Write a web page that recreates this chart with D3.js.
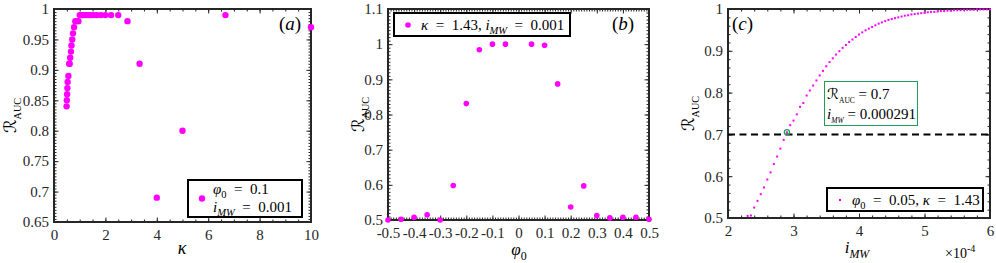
<!DOCTYPE html>
<html>
<head>
<meta charset="utf-8">
<script src="https://cdn.jsdelivr.net/npm/d3@7"></script>
<style>
  body { margin: 0; background: #fff; }
  svg { display: block; }
</style>
</head>
<body>
<script>
// (a) R_AUC against kappa, phi0 = 0.1, iMW = 0.001
var kappaA = [0.49, 0.50, 0.51, 0.52, 0.53, 0.56, 0.59, 0.61, 0.63, 0.66, 0.68, 0.71, 0.74, 0.78,
  0.83, 0.88, 0.95, 1.00, 1.05, 1.11, 1.18, 1.25, 1.33, 1.43, 1.54, 1.67, 1.82, 2.00, 2.22, 2.50,
  2.86, 3.33, 4.00, 5.00, 6.67, 10.0];
var rocA = [0.84, 0.85, 0.86, 0.87, 0.88, 0.89, 0.91, 0.91, 0.92, 0.93, 0.94, 0.95, 0.96, 0.97,
  0.98, 0.98, 0.98, 0.99, 0.99, 0.99, 0.99, 0.99, 0.99, 0.99, 0.99, 0.99, 0.99, 0.99, 0.99, 0.99,
  0.98, 0.91, 0.69, 0.80, 0.99, 0.97];

// (b) R_AUC against phi0, kappa = 1.43, iMW = 0.001 (no point at 0)
var phiB = [-0.5, -0.45, -0.4, -0.35, -0.3, -0.25, -0.2, -0.15, -0.1, -0.05,
  0.05, 0.1, 0.15, 0.2, 0.25, 0.3, 0.35, 0.4, 0.45, 0.5];
var rocB = [0.500, 0.502, 0.508, 0.515, 0.500, 0.598, 0.831, 0.984, 1.000, 1.000,
  1.000, 0.997, 0.887, 0.537, 0.597, 0.513, 0.506, 0.508, 0.508, 0.502];

// (c) R_AUC against iMW (in units of 1e-4), phi0 = 0.05, kappa = 1.43
var iMWC = [2.30, 2.35, 2.40, 2.45, 2.50, 2.55, 2.60, 2.65, 2.70, 2.75, 2.80, 2.85, 2.90, 2.95,
  3.00, 3.05, 3.10, 3.15, 3.20, 3.25, 3.30, 3.35, 3.40, 3.45, 3.50, 3.55, 3.60, 3.65, 3.70, 3.75,
  3.80, 3.85, 3.90, 3.95, 4.00, 4.05, 4.10, 4.15, 4.20, 4.25, 4.30, 4.35, 4.40, 4.45, 4.50, 4.55,
  4.60, 4.65, 4.70, 4.75, 4.80, 4.85, 4.90, 4.95, 5.00, 5.05, 5.10, 5.15, 5.20, 5.25, 5.30, 5.35,
  5.40, 5.45, 5.50, 5.55, 5.60, 5.65, 5.70, 5.75, 5.80, 5.85, 5.90, 5.95, 6.00];
var rocC = [0.505, 0.506, 0.525, 0.541, 0.557, 0.573, 0.592, 0.609, 0.629, 0.647,
  0.666, 0.687, 0.705, 0.722, 0.733, 0.748, 0.766, 0.775, 0.793, 0.805,
  0.817, 0.829, 0.841, 0.852, 0.863, 0.873, 0.882, 0.891, 0.899, 0.907,
  0.914, 0.921, 0.927, 0.933, 0.939, 0.944, 0.949, 0.953, 0.957, 0.961,
  0.965, 0.968, 0.971, 0.974, 0.976, 0.978, 0.980, 0.982, 0.984, 0.985,
  0.987, 0.988, 0.989, 0.990, 0.991, 0.992, 0.993, 0.993, 0.994, 0.995,
  0.995, 0.996, 0.996, 0.997, 0.997, 0.997, 0.998, 0.998, 0.998, 0.998,
  0.999, 0.999, 0.999, 0.999, 0.999];
var thresholdC = 0.7;
var markC = [2.90, 0.705];   // circled point

// tick labels
var xTicksA = [0, 2, 4, 6, 8, 10];
var yTicksA = [0.65, 0.7, 0.75, 0.8, 0.85, 0.9, 0.95, 1];
var xTicksB = [-0.5, -0.4, -0.3, -0.2, -0.1, 0, 0.1, 0.2, 0.3, 0.4, 0.5];
var yTicksB = [0.5, 0.6, 0.7, 0.8, 0.9, 1, 1.1];
var xTicksC = [2, 3, 4, 5, 6];
var yTicksC = [0.5, 0.6, 0.7, 0.8, 0.9, 1];

var W = 996, H = 263;
var ink = "#262626", pink = "#ff00ff", green = "#1fa05a";
var serif = "'Liberation Serif', 'Times New Roman', Times, serif";
var calR = "'DejaVu Sans', sans-serif";   // calligraphic R glyph
var EQ = "\u2002=\u2002";                  // LaTeX-like spacing round "="

var svg = d3.select("body").append("svg")
    .attr("width", W)
    .attr("height", H)
    .attr("font-family", serif);

// text made of pieces: {t, i (italic), sub, ss (sub scale), f (font)}
function rich(sel, x, y, parts, size, anchor) {
  var t = sel.append("text")
      .attr("x", x)
      .attr("y", y)
      .attr("font-family", serif)
      .attr("font-size", size)
      .attr("text-anchor", anchor || "start")
      .attr("fill", "#000");
  var cur = 0;
  parts.forEach(function (p) {
    var s = t.append("tspan").text(p.t);
    var target = p.sub ? size * 0.28 : (p.sup ? -size * 0.45 : 0);
    if (target !== cur) { s.attr("dy", target - cur); cur = target; }
    if (p.i) s.attr("font-style", "italic");
    if (p.sub || p.sup) s.attr("font-size", size * (p.ss || 0.7));
    if (p.f) s.attr("font-family", p.f);
  });
  return t;
}

function fmt(d) { return String(+d.toFixed(2)); }

function panel(o) {
  var x = d3.scaleLinear().domain(o.xd).range([o.l, o.r]);
  var y = d3.scaleLinear().domain(o.yd).range([o.b, o.t]);
  var g = svg.append("g");

  function styleAxis(a) {
    a.select(".domain").remove();
    a.attr("font-family", serif).attr("font-size", 15);
    a.selectAll("line").attr("stroke", ink).attr("stroke-width", 1);
    a.selectAll("text").attr("fill", ink).attr("font-family", serif);
  }

  // minor ticks on all four sides
  var xm = d3.range(o.xd[0], o.xd[1] + 1e-9, o.xm);
  var ym = d3.range(o.yd[0], o.yd[1] + 1e-9, o.ym);
  g.append("g").attr("transform", "translate(0," + o.b + ")")
      .call(d3.axisBottom(x).tickValues(xm).tickSize(-2.5).tickFormat("")).call(styleAxis);
  g.append("g").attr("transform", "translate(0," + o.t + ")")
      .call(d3.axisTop(x).tickValues(xm).tickSize(-2.5).tickFormat("")).call(styleAxis);
  g.append("g").attr("transform", "translate(" + o.l + ",0)")
      .call(d3.axisLeft(y).tickValues(ym).tickSize(-2.5).tickFormat("")).call(styleAxis);
  g.append("g").attr("transform", "translate(" + o.r + ",0)")
      .call(d3.axisRight(y).tickValues(ym).tickSize(-2.5).tickFormat("")).call(styleAxis);

  // major ticks with labels
  g.append("g").attr("transform", "translate(0," + o.b + ")")
      .call(d3.axisBottom(x).tickValues(o.xt).tickSize(-4.5).tickPadding(7).tickFormat(fmt))
      .call(styleAxis);
  g.append("g").attr("transform", "translate(0," + o.t + ")")
      .call(d3.axisTop(x).tickValues(o.xt).tickSize(-4.5).tickFormat(""))
      .call(styleAxis);
  g.append("g").attr("transform", "translate(" + o.l + ",0)")
      .call(d3.axisLeft(y).tickValues(o.yt).tickSize(-4.5).tickPadding(5).tickFormat(fmt))
      .call(styleAxis);
  g.append("g").attr("transform", "translate(" + o.r + ",0)")
      .call(d3.axisRight(y).tickValues(o.yt).tickSize(-4.5).tickFormat(""))
      .call(styleAxis);

  g.append("rect")
      .attr("x", o.l).attr("y", o.t)
      .attr("width", o.r - o.l).attr("height", o.b - o.t)
      .attr("fill", "none").attr("stroke", ink).attr("stroke-width", 2);

  // y label
  var yl = rich(g, 0, 0, [
    {t: "\u211B", f: calR},
    {t: "AUC", sub: true, ss: 0.6}
  ], 17, "middle");
  yl.attr("transform", "translate(" + o.ylx + "," + ((o.t + o.b) / 2) + ") rotate(-90)");

  return {g: g, x: x, y: y};
}

// ---------- (a) ----------
var A = panel({l: 54, r: 311, t: 9, b: 222, xd: [0, 10], yd: [0.65, 1],
  xt: xTicksA, yt: yTicksA, xm: 0.5, ym: 0.005, ylx: 16});
A.g.append("g").selectAll("circle")
    .data(kappaA)
    .join("circle")
    .attr("cx", function (d) { return A.x(d); })
    .attr("cy", function (d, i) { return A.y(rocA[i]); })
    .attr("r", 3.2)
    .attr("fill", pink);
rich(A.g, 182, 254, [{t: "\u03BA", i: true}], 18, "middle");
rich(A.g, 279, 30, [{t: "("}, {t: "a", i: true}, {t: ")"}], 19);
A.g.append("rect").attr("x", 188).attr("y", 180).attr("width", 114).attr("height", 37)
    .attr("fill", "#fff").attr("stroke", "#000").attr("stroke-width", 2);
A.g.append("circle").attr("cx", 202).attr("cy", 198.5).attr("r", 3.2).attr("fill", pink);
rich(A.g, 213, 194, [{t: "\u03C6", i: true}, {t: "0", sub: true}, {t: EQ + "0.1"}], 15);
rich(A.g, 213, 212, [{t: "i", i: true}, {t: "MW", i: true, sub: true}, {t: EQ + "0.001"}], 15);

// ---------- (b) ----------
var B = panel({l: 388, r: 649, t: 9, b: 220, xd: [-0.5, 0.5], yd: [0.5, 1.1],
  xt: xTicksB, yt: yTicksB, xm: 0.01, ym: 0.01, ylx: 364});
B.g.append("g").selectAll("circle")
    .data(phiB)
    .join("circle")
    .attr("cx", function (d) { return B.x(d); })
    .attr("cy", function (d, i) { return B.y(rocB[i]); })
    .attr("r", 2.8)
    .attr("fill", pink);
rich(B.g, 519, 255, [{t: "\u03C6", i: true}, {t: "0", sub: true}], 17, "middle");
rich(B.g, 612, 30, [{t: "("}, {t: "b", i: true}, {t: ")"}], 19);
B.g.append("rect").attr("x", 394).attr("y", 13).attr("width", 176).attr("height", 23)
    .attr("fill", "#fff").attr("stroke", "#000").attr("stroke-width", 2);
B.g.append("circle").attr("cx", 408).attr("cy", 25).attr("r", 2.8).attr("fill", pink);
rich(B.g, 421, 30, [{t: "\u03BA", i: true}, {t: EQ + "1.43, "}, {t: "i", i: true},
  {t: "MW", i: true, sub: true}, {t: EQ + "0.001"}], 15);

// ---------- (c) ----------
var C = panel({l: 728, r: 990, t: 9, b: 218, xd: [2, 6], yd: [0.5, 1],
  xt: xTicksC, yt: yTicksC, xm: 0.2, ym: 0.02, ylx: 694});
C.g.append("line")
    .attr("x1", C.x(2)).attr("x2", C.x(6))
    .attr("y1", C.y(thresholdC)).attr("y2", C.y(thresholdC))
    .attr("stroke", "#000").attr("stroke-width", 2).attr("stroke-dasharray", "7,4.5");
C.g.append("g").selectAll("rect")
    .data(iMWC)
    .join("rect")
    .attr("x", function (d) { return C.x(d) - 1; })
    .attr("y", function (d, i) { return C.y(rocC[i]) - 1; })
    .attr("width", 2).attr("height", 2)
    .attr("fill", pink);
C.g.append("circle").attr("cx", C.x(markC[0])).attr("cy", C.y(markC[1])).attr("r", 2.6)
    .attr("fill", "none").attr("stroke", green).attr("stroke-width", 1.3);
rich(C.g, 857, 253, [{t: "i", i: true}, {t: "MW", i: true, sub: true}], 17, "middle");
rich(C.g, 945, 258, [{t: "\u00D710"}, {t: "-4", sup: true, ss: 0.72}], 14);
rich(C.g, 732, 30, [{t: "("}, {t: "c", i: true}, {t: ")"}], 19);
C.g.append("rect").attr("x", 827).attr("y", 188).attr("width", 156).attr("height", 23)
    .attr("fill", "#fff").attr("stroke", "#000").attr("stroke-width", 2);
C.g.append("rect").attr("x", 839).attr("y", 199).attr("width", 2).attr("height", 2).attr("fill", pink);
rich(C.g, 852, 205, [{t: "\u03C6", i: true}, {t: "0", sub: true}, {t: EQ + "0.05, "},
  {t: "\u03BA", i: true}, {t: EQ + "1.43"}], 15);
C.g.append("rect").attr("x", 824.5).attr("y", 81.5).attr("width", 93).attr("height", 44)
    .attr("fill", "#fff").attr("stroke", green).attr("stroke-width", 1);
rich(C.g, 827, 99, [{t: "\u211B", f: calR}, {t: "AUC", sub: true, ss: 0.5},
  {t: " = 0.7"}], 15);
rich(C.g, 827, 119, [{t: "i", i: true}, {t: "MW", i: true, sub: true, ss: 0.5},
  {t: " = 0.000291"}], 15);
</script>
</body>
</html>
